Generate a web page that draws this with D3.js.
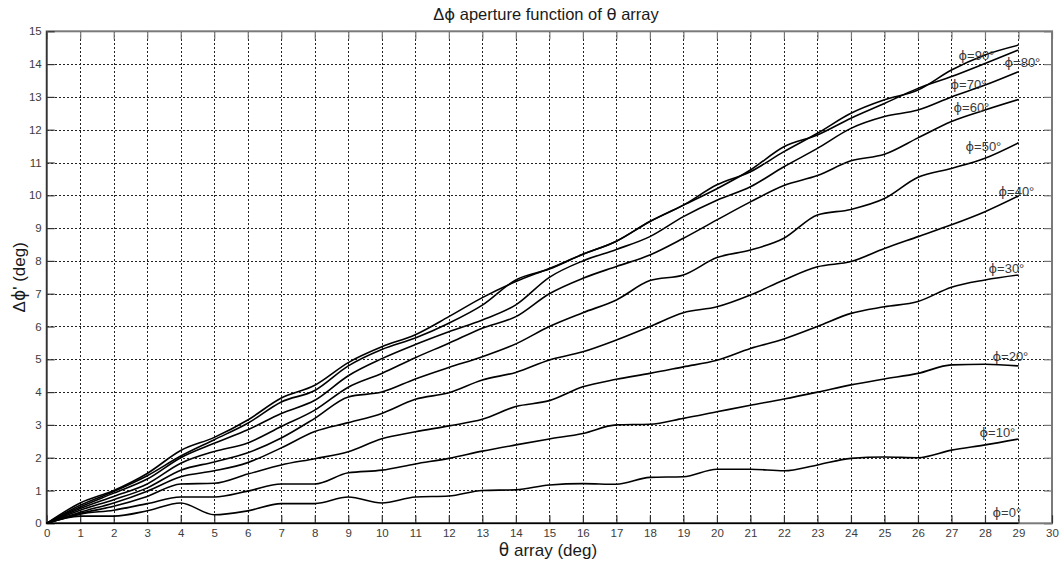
<!DOCTYPE html>
<html><head><meta charset="utf-8">
<script src="https://cdn.jsdelivr.net/npm/d3@7/dist/d3.min.js"></script>
<style>
body{margin:0;background:#fff}
svg{display:block}
text{font-family:"Liberation Sans",Arial,Helvetica,sans-serif}
</style>
</head><body>
<svg id="chart" width="1060" height="565"></svg>
<script>
// ---------- data ----------
const theta = [0,1,2,3,4,5,6,7,8,9,10,11,12,13,14,15,16,17,18,19,20,21,22,23,24,25,26,27,28,29];

const phi0  = [0,0,0,0,0,0,0,0,0,0,0,0,0,0,0,0,0,0,0,0,0,0,0,0,0,0,0,0,0,0];
const phi10 = [0,0.22,0.22,0.38,0.62,0.26,0.38,0.6,0.6,0.8,0.62,0.8,0.83,1.0,1.02,1.17,1.21,1.19,1.4,1.42,1.65,1.65,1.6,1.78,1.98,2.02,2.0,2.23,2.39,2.57];
const phi20 = [0,0.28,0.4,0.6,0.8,0.8,0.98,1.2,1.2,1.54,1.62,1.81,1.98,2.2,2.39,2.57,2.74,3.0,3.02,3.2,3.4,3.6,3.79,4.0,4.22,4.4,4.57,4.83,4.85,4.8];
const phi30 = [0,0.3,0.52,0.82,1.2,1.22,1.5,1.78,1.97,2.18,2.58,2.79,2.97,3.17,3.56,3.74,4.16,4.39,4.57,4.77,4.97,5.33,5.62,6.0,6.4,6.6,6.76,7.2,7.42,7.57];
const phi40 = [0,0.34,0.62,0.98,1.42,1.6,1.85,2.3,2.8,3.07,3.35,3.78,3.98,4.37,4.6,4.98,5.23,5.59,6.0,6.42,6.6,6.96,7.42,7.82,7.98,8.38,8.74,9.1,9.5,9.98];
const phi50 = [0,0.4,0.72,1.08,1.62,1.87,2.15,2.6,3.2,3.85,4.0,4.4,4.75,5.08,5.47,6.0,6.42,6.81,7.4,7.57,8.1,8.33,8.69,9.4,9.57,9.9,10.55,10.82,11.13,11.6];
const phi60 = [0,0.45,0.82,1.2,1.83,2.19,2.45,2.95,3.45,4.15,4.57,5.05,5.49,5.95,6.3,7.0,7.47,7.83,8.18,8.69,9.25,9.8,10.3,10.6,11.05,11.25,11.75,12.25,12.6,12.92];
const phi70 = [0,0.5,0.92,1.35,2.0,2.44,2.85,3.35,3.75,4.5,5.02,5.45,5.84,6.2,6.66,7.5,8.0,8.35,8.74,9.35,9.85,10.26,10.87,11.43,12.04,12.4,12.6,13.0,13.36,13.77];
const phi80 = [0,0.55,0.97,1.45,2.05,2.55,3.05,3.7,4.05,4.8,5.3,5.65,6.1,6.65,7.42,7.75,8.2,8.6,9.2,9.7,10.2,10.77,11.48,11.84,12.35,12.8,13.26,13.62,14.02,14.43];
const phi90 = [0,0.62,1.0,1.52,2.22,2.62,3.15,3.82,4.21,4.9,5.38,5.75,6.3,6.88,7.37,7.77,8.2,8.6,9.2,9.7,10.32,10.72,11.33,11.89,12.5,12.91,13.21,13.82,14.28,14.58];

const seriesDeg = ["0","10","20","30","40","50","60","70","80","90"];
const seriesValues = [phi0,phi10,phi20,phi30,phi40,phi50,phi60,phi70,phi80,phi90];
const xTickValues = [0,1,2,3,4,5,6,7,8,9,10,11,12,13,14,15,16,17,18,19,20,21,22,23,24,25,26,27,28,29,30];
const yTickValues = [0,1,2,3,4,5,6,7,8,9,10,11,12,13,14,15];

const PHI = "\u03D5";
const GREEK = '"DejaVu Sans","Liberation Sans",sans-serif';

// ---------- layout ----------
const L = 46.7, R = 1052, T = 31.3, B = 523.3;
// label offsets (px) relative to each curve's last point
const labelOffsets = [[-26,-11],[-39,-7],[-26,-9],[-30,-7],[-20,-5],[-53,4],[-65,8],[-68,13],[-14,12],[-60,10]];

const svg = d3.select("#chart");
const x = d3.scaleLinear().domain([0,30]).range([L,R]);
const y = d3.scaleLinear().domain([0,15]).range([B,T]);

// grid
const grid = svg.append("g").attr("stroke","#222").attr("stroke-width",1).attr("stroke-dasharray","2,2").attr("shape-rendering","crispEdges");
grid.selectAll("line.v").data(xTickValues.filter(d=>d>0&&d<30)).join("line")
  .attr("x1",d=>Math.round(x(d))+0.5).attr("x2",d=>Math.round(x(d))+0.5).attr("y1",T).attr("y2",B);
grid.selectAll("line.h").data(yTickValues.filter(d=>d>0&&d<15)).join("line")
  .attr("x1",L).attr("x2",R).attr("y1",d=>Math.round(y(d))+0.5).attr("y2",d=>Math.round(y(d))+0.5);

// box
svg.append("rect").attr("x",L).attr("y",T).attr("width",R-L).attr("height",B-T)
  .attr("fill","none").attr("stroke","#7a7a7a").attr("stroke-width",2);

// axes
const fmt = d3.format("d");
const gx = svg.append("g").attr("transform",`translate(0,${B})`)
  .call(d3.axisBottom(x).tickValues(xTickValues).tickFormat(fmt).tickSize(-8).tickPadding(6));
const gy = svg.append("g").attr("transform",`translate(${L},0)`)
  .call(d3.axisLeft(y).tickValues(yTickValues).tickFormat(fmt).tickSize(-8).tickPadding(5));
const gt = svg.append("g").attr("transform",`translate(0,${T})`)
  .call(d3.axisTop(x).tickValues(xTickValues).tickFormat("").tickSize(-8));
const gr = svg.append("g").attr("transform",`translate(${R},0)`)
  .call(d3.axisRight(y).tickValues(yTickValues).tickFormat("").tickSize(-8));
[gx,gy,gt,gr].forEach(g=>{
  g.select(".domain").remove();
  g.selectAll(".tick line").attr("stroke","#333").attr("stroke-width",1.2);
  g.selectAll(".tick text").attr("fill","#3c3c3c").style("font-size","11.5px").style("font-family",'"Liberation Sans",Arial,sans-serif');
});
gt.selectAll(".tick line").attr("stroke","#777");
gr.selectAll(".tick line").attr("stroke","#777");
// left axis line
svg.append("line").attr("x1",L).attr("x2",L).attr("y1",T).attr("y2",B).attr("stroke","#333").attr("stroke-width",1.5);

// curves
const line = d3.line().x((d,i)=>x(theta[i])).y(d=>y(d)).curve(d3.curveMonotoneX);
svg.append("g").selectAll("path").data(seriesValues).join("path")
  .attr("d",d=>line(d)).attr("fill","none").attr("stroke","#000").attr("stroke-width",1.6)
  .attr("stroke-linejoin","round");

// curve labels
const last = theta.length-1;
const lbl = svg.append("g").selectAll("text").data(seriesValues).join("text")
  .attr("x",(d,i)=>x(theta[last])+labelOffsets[i][0])
  .attr("y",(d,i)=>y(d[last])+labelOffsets[i][1])
  .attr("dy","0.35em")
  .attr("fill","#3a3a3a").style("font-size","13px");
lbl.append("tspan").style("font-family",GREEK).text(PHI);
lbl.append("tspan").text((d,i)=>"="+seriesDeg[i]+"\u00B0");

// titles
const title = svg.append("text").attr("x",546).attr("y",20).attr("text-anchor","middle")
  .attr("fill","#1a1a1a").style("font-size","16.5px");
title.append("tspan").text("\u0394");
title.append("tspan").style("font-family",GREEK).text(PHI);
title.append("tspan").text(" aperture function of ");
title.append("tspan").style("font-family",GREEK).text("\u03B8");
title.append("tspan").text(" array");

const xl = svg.append("text").attr("x",548).attr("y",556).attr("text-anchor","middle")
  .attr("fill","#1a1a1a").style("font-size","17px");
xl.append("tspan").style("font-family",GREEK).text("\u03B8");
xl.append("tspan").text(" array (deg)");

const yl = svg.append("text").attr("transform",`translate(25,${(T+B)/2}) rotate(-90)`).attr("text-anchor","middle")
  .attr("fill","#1a1a1a").style("font-size","17px");
yl.append("tspan").text("\u0394");
yl.append("tspan").style("font-family",GREEK).text(PHI);
yl.append("tspan").text("' (deg)");
</script>
</body></html>
